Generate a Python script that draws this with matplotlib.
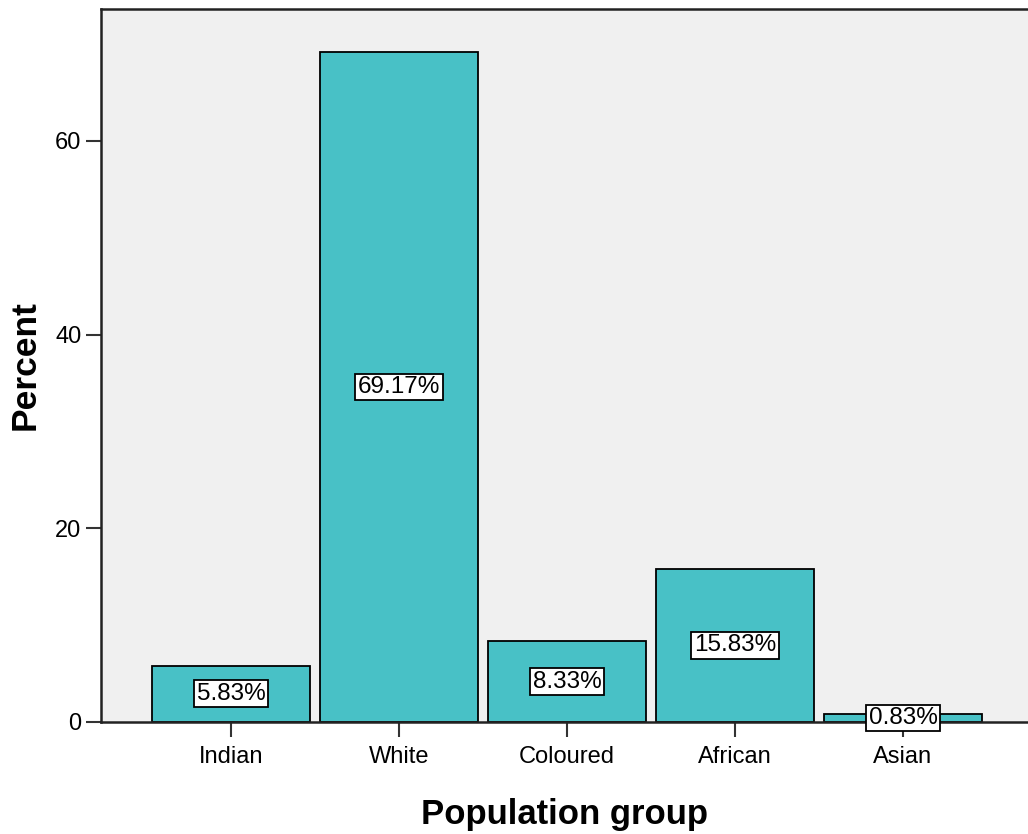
import numpy as np
import matplotlib
import matplotlib.pyplot as plt
matplotlib.use("Agg")

plt.rcParams['font.family'] = ['Liberation Sans', 'DejaVu Sans']

groups = ['Indian', 'White', 'Coloured', 'African', 'Asian']
percents = [5.83, 69.17, 8.33, 15.83, 0.83]
yticks = [0, 20, 40, 60]

fig = plt.figure(figsize=(10.28, 8.34), dpi=100)
ax = fig.add_axes([0.0982, 0.1343, 0.9018, 0.8549])
ax.set_facecolor('#F0F0F0')

x = np.arange(len(groups))
ax.bar(x, percents, width=0.94, color='#48C1C6', edgecolor='black', linewidth=1.3, zorder=2)

# value labels in the middle of each bar
for xi, p in zip(x, percents):
    ax.text(xi, p / 2, '%.2f%%' % p, ha='center', va='center', fontsize=17.5, zorder=4,
            bbox=dict(boxstyle='square,pad=0.1', facecolor='white', edgecolor='black', linewidth=1.3))

ax.set_xlim(-0.774, 4.744)
ax.set_ylim(0, 73.6)
ax.set_xticks(x)
ax.set_xticklabels(groups)
ax.set_yticks(yticks)
ax.tick_params(axis='both', labelsize=17, length=11, width=1.5, color='#333333', pad=3)
ax.tick_params(axis='x', pad=6)

for s in ['left', 'top', 'bottom']:
    ax.spines[s].set_linewidth(1.8)
    ax.spines[s].set_color('#222222')
ax.spines['right'].set_visible(False)

ax.set_xlabel('Population group', fontsize=25, fontweight='bold', labelpad=22)
ax.set_ylabel('Percent', fontsize=25.5, fontweight='bold', labelpad=10)

plt.savefig('out.png', dpi=100)
